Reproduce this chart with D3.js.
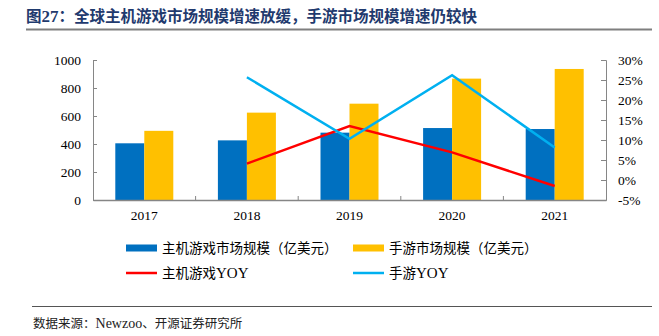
<!DOCTYPE html>
<html>
<head>
<meta charset="utf-8">
<script src="https://cdn.jsdelivr.net/npm/d3@7"></script>
<style>
  body { margin: 0; background: #fff; }
  svg { display: block; }
</style>
</head>
<body>
<svg id="chart" width="659" height="336"></svg>
<script>
///////////////////////////////////////////////////////////
// Data
const years = ["2017", "2018", "2019", "2020", "2021"];
const consoleSize = [405, 426, 481, 514, 507];
const mobileSize = [494, 624, 688, 867, 936];
const consoleYoy = [null, 4.1, 13.5, 6.9, -1.5];
const mobileYoy = [null, 25.7, 10.3, 26.2, 8.1];
const leftTicks = [0, 200, 400, 600, 800, 1000];
const rightTicks = [-5, 0, 5, 10, 15, 20, 25, 30];

const titleText = "图27：全球主机游戏市场规模增速放缓，手游市场规模增速仍较快";
const sourceText = "数据来源：Newzoo、开源证券研究所";
const legendItems = [
  { label: "主机游戏市场规模（亿美元）", color: "#0070C0", type: "bar" },
  { label: "手游市场规模（亿美元）", color: "#FFC000", type: "bar" },
  { label: "主机游戏YOY", color: "#FF0000", type: "line" },
  { label: "手游YOY", color: "#00B0F0", type: "line" },
];

const cjk = "'Noto Sans CJK SC', sans-serif";
const serif = "'Liberation Serif', 'Times New Roman', serif";

const svg = d3.select("#chart");

// write text with latin runs in serif, the rest in the CJK font
function mixedText(sel, str) {
  const runs = str.match(/[\x20-\x7e]+|[^\x20-\x7e]+/g);
  runs.forEach(r => {
    sel.append("tspan")
      .attr("font-family", /^[\x20-\x7e]/.test(r) ? serif : cjk)
      .text(r);
  });
  return sel;
}

///////////////////////////////////////////////////////////
// Title and rules
const title = svg.append("text")
  .attr("x", 26).attr("y", 22)
  .attr("font-size", 15.5).attr("font-weight", "bold")
  .attr("fill", "#1F3A6E");
mixedText(title, titleText);
title.select("tspan:nth-child(2)").attr("font-size", 17);

svg.append("line")
  .attr("x1", 26).attr("x2", 652).attr("y1", 29.5).attr("y2", 29.5)
  .attr("stroke", "#7f7f7f").attr("stroke-width", 2);

svg.append("line")
  .attr("x1", 32).attr("x2", 652).attr("y1", 306.5).attr("y2", 306.5)
  .attr("stroke", "#555").attr("stroke-width", 1);

const source = svg.append("text")
  .attr("x", 33).attr("y", 328)
  .attr("font-size", 12.5)
  .attr("fill", "#222");
mixedText(source, sourceText);
source.select("tspan:nth-child(2)").attr("font-size", 14);

///////////////////////////////////////////////////////////
// Scales
const plotLeft = 93, plotRight = 606, plotTop = 60, plotBottom = 200;

const x = d3.scaleBand().domain(years).range([plotLeft, plotRight]);
const yL = d3.scaleLinear().domain([0, 1000]).range([plotBottom, plotTop]);
const yR = d3.scaleLinear().domain([-5, 30]).range([plotBottom, plotTop]);
const barW = 29;

///////////////////////////////////////////////////////////
// Bars
const g = svg.append("g");

g.selectAll(".bar-console")
  .data(years)
  .enter().append("rect")
  .attr("x", d => x(d) + x.bandwidth() / 2 - barW)
  .attr("y", (d, i) => yL(consoleSize[i]))
  .attr("width", barW)
  .attr("height", (d, i) => yL(0) - yL(consoleSize[i]))
  .attr("fill", "#0070C0");

g.selectAll(".bar-mobile")
  .data(years)
  .enter().append("rect")
  .attr("x", d => x(d) + x.bandwidth() / 2)
  .attr("y", (d, i) => yL(mobileSize[i]))
  .attr("width", barW)
  .attr("height", (d, i) => yL(0) - yL(mobileSize[i]))
  .attr("fill", "#FFC000");

///////////////////////////////////////////////////////////
// Axes
const axisColor = "#868686";

const axisLeftG = svg.append("g")
  .attr("transform", `translate(${plotLeft},0)`)
  .call(d3.axisRight(yL).tickValues(leftTicks).tickSize(4).tickFormat(d => d));
axisLeftG.selectAll("text")
  .attr("x", -12).attr("text-anchor", "end");

const axisRightG = svg.append("g")
  .attr("transform", `translate(${plotRight},0)`)
  .call(d3.axisLeft(yR).tickValues(rightTicks).tickSize(5).tickFormat(d => d + "%"));
axisRightG.selectAll("text")
  .attr("x", 12).attr("text-anchor", "start");

const axisBottomG = svg.append("g")
  .attr("transform", `translate(0,${plotBottom})`)
  .call(d3.axisBottom(x).tickSize(0).tickPadding(10));

// category boundary ticks pointing up
svg.append("g").selectAll("line")
  .data(years.slice(1))
  .enter().append("line")
  .attr("x1", d => x(d)).attr("x2", d => x(d))
  .attr("y1", plotBottom).attr("y2", plotBottom - 4)
  .attr("stroke", axisColor);

[axisLeftG, axisRightG, axisBottomG].forEach(a => {
  a.select(".domain").attr("stroke", axisColor);
  a.selectAll(".tick line").attr("stroke", axisColor);
  a.selectAll("text")
    .attr("font-family", serif).attr("font-size", 13.5).attr("fill", "#000");
});
axisBottomG.select(".domain").attr("stroke-width", 1.5);

///////////////////////////////////////////////////////////
// Lines
const cx = d => x(d) + x.bandwidth() / 2;

function drawLine(values, color) {
  const line = d3.line()
    .defined((d, i) => values[i] !== null)
    .x(d => cx(d))
    .y((d, i) => yR(values[i]));
  svg.append("path")
    .datum(years)
    .attr("d", line)
    .attr("fill", "none")
    .attr("stroke", color)
    .attr("stroke-width", 2.5);
}
drawLine(consoleYoy, "#FF0000");
drawLine(mobileYoy, "#00B0F0");

///////////////////////////////////////////////////////////
// Legend
const legendPos = [[126, 248], [353, 248], [126, 273], [353, 273]];

legendItems.forEach((item, i) => {
  const [lx, ly] = legendPos[i];
  if (item.type === "bar") {
    svg.append("rect")
      .attr("x", lx).attr("y", ly - 3.5)
      .attr("width", 31).attr("height", 7)
      .attr("fill", item.color);
  } else {
    svg.append("line")
      .attr("x1", lx).attr("x2", lx + 31)
      .attr("y1", ly).attr("y2", ly)
      .attr("stroke", item.color).attr("stroke-width", 2.5);
  }
  const t = svg.append("text")
    .attr("x", lx + 36).attr("y", ly + 5)
    .attr("font-size", 13.5)
    .attr("fill", "#000");
  mixedText(t, item.label);
  t.selectAll("tspan").filter(function () {
    return d3.select(this).attr("font-family") === serif;
  }).attr("font-size", 15);
});
</script>
</body>
</html>
